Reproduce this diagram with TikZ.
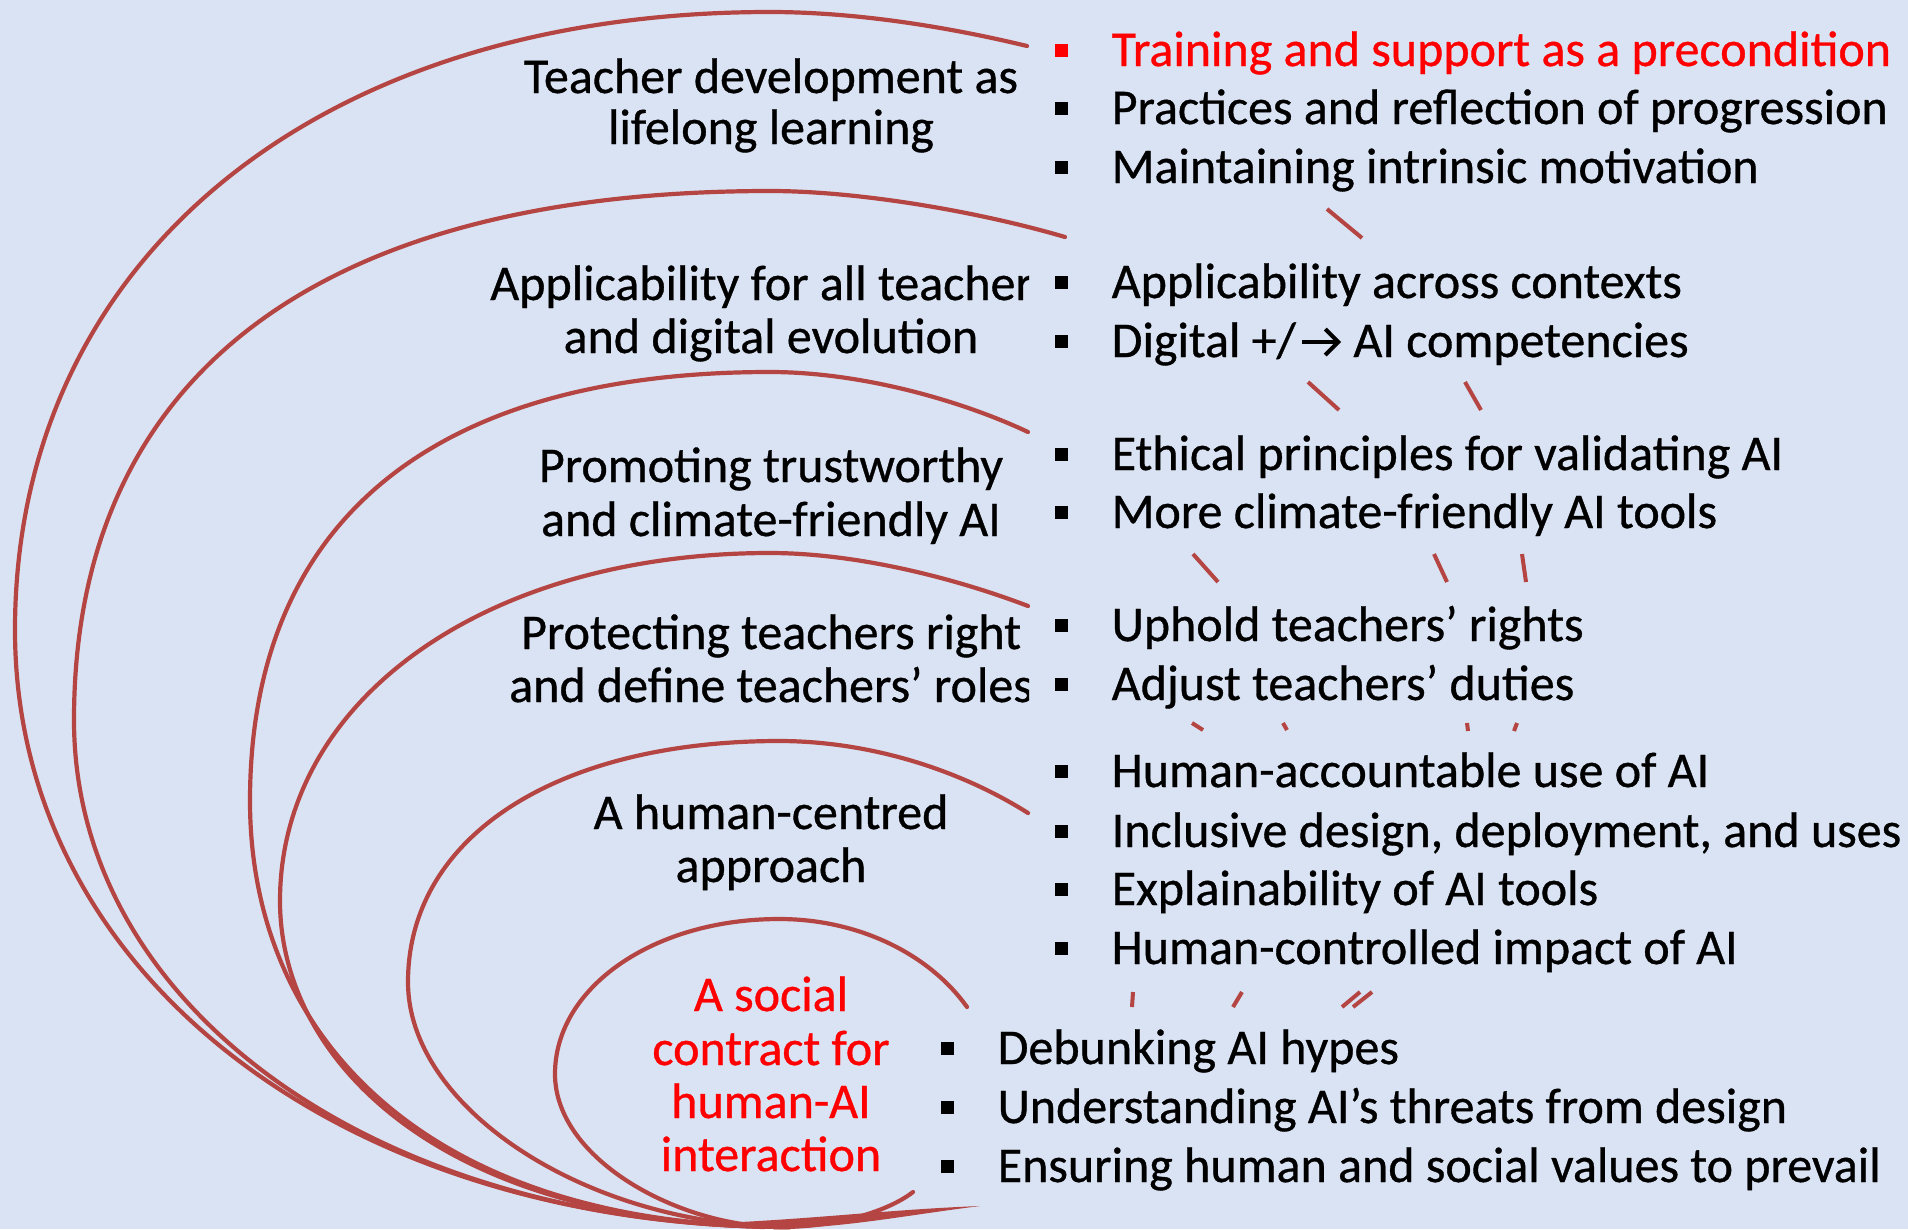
\documentclass[tikz,border=0pt]{standalone}
\usepackage{fontspec}
\setmainfont{Carlito}[FakeBold=0.7]
\usetikzlibrary{calc}
\definecolor{bgblue}{RGB}{218,227,243}
\definecolor{arcred}{RGB}{181,69,66}
\definecolor{hotred}{RGB}{255,0,0}
% square bullet followed by the gap to the item text
\newcommand{\bsq}{\rule[9.5pt]{13pt}{13pt}\hspace{44pt}}
\begin{document}
\begin{tikzpicture}[x=1pt,y=-1pt,
  arc/.style={draw=arcred, line width=4.2pt, line cap=round, line join=round},
  tick/.style={draw=arcred, line width=4pt},
  lbl/.style={anchor=base, inner sep=0pt, font=\fontsize{50}{58}\selectfont},
  brow/.style={anchor=base west, inner sep=0pt, font=\fontsize{50}{58}\selectfont},
  txtarrow/.style={draw=black, line width=4pt, line join=miter},
]
\useasboundingbox (0,0) rectangle (1908,1229);
\fill[bgblue] (0,0) rectangle (1908,1229);

% nested arcs, outermost first; all sweep down into one point at the bottom
\draw[arc] (1027,46) .. controls (940,25) and (850,12) .. (770,12)
  .. controls (317,12) and (15,259) .. (15,630)
  .. controls (15,980) and (350,1227) .. (790,1227);
\draw[arc] (1065,237) .. controls (980,212) and (860,191) .. (770,191)
  .. controls (318,191) and (74,376) .. (74,720)
  .. controls (74,1010) and (380,1227) .. (790,1227);
\draw[arc] (1028,432) .. controls (960,400) and (860,372) .. (770,372)
  .. controls (432,372) and (250,522) .. (250,801)
  .. controls (250,1040) and (430,1227) .. (790,1227);
\draw[arc] (1028,606) .. controls (960,580) and (860,553) .. (770,553)
  .. controls (486,553) and (280,699) .. (280,901)
  .. controls (280,1060) and (440,1227) .. (790,1227);
\draw[arc] (1028,813) .. controls (960,770) and (870,741) .. (779,741)
  .. controls (556,741) and (408,837) .. (408,982)
  .. controls (408,1110) and (590,1227) .. (790,1227);
\draw[arc] (967,1007) .. controls (930,955) and (860,919) .. (779,919)
  .. controls (654,919) and (555,987) .. (555,1074)
  .. controls (555,1160) and (680,1227) .. (780,1227)
  .. controls (840,1227) and (890,1210) .. (913,1192);
% tapered tail where the arcs meet
\fill[arcred] (740,1222) .. controls (820,1218) and (900,1209) .. (980,1206)
  .. controls (900,1216) and (840,1229) .. (760,1229) -- cycle;

% short red strokes between the item groups
\draw[tick] (1327,209) -- (1362,238);
\draw[tick] (1308,382) -- (1339,410);
\draw[tick] (1465,382) -- (1481,410);
\draw[tick] (1193,554) -- (1218,582);
\draw[tick] (1434,554) -- (1447,582);
\draw[tick] (1522,554) -- (1526,582);
\draw[tick] (1192,723) -- (1203,730);
\draw[tick] (1283,723) -- (1287,730);
\draw[tick] (1467,723) -- (1468,731);
\draw[tick] (1517,723) -- (1514,731);
\draw[tick] (1133,992) -- (1132,1007);
\draw[tick] (1242,992) -- (1233,1007);
\draw[tick] (1360,992) -- (1342,1007);
\draw[tick] (1372,992) -- (1353,1007);

% layer titles
\begin{scope}
\clip (0,0) rectangle (1029,1229);
\node[lbl] (t1a) at (771,93) {Teacher development as};
\node[lbl] (t1b) at (771,144) {lifelong learning};
\node[lbl] (t2a) at (771,300) {Applicability for all teachers};
\node[lbl] (t2b) at (771,353) {and digital evolution};
\node[lbl] (t3a) at (771,482) {Promoting trustworthy};
\node[lbl] (t3b) at (771,536) {and climate-friendly AI};
\node[lbl] (t4a) at (771,649) {Protecting teachers right};
\node[lbl] (t4b) at (771,702) {and define teachers’ roles};
\node[lbl] (t5a) at (771,829) {A human-centred};
\node[lbl] (t5b) at (771,882) {approach};
\node[lbl, text=hotred] (t6a) at (771,1011) {A social};
\node[lbl, text=hotred] (t6b) at (771,1065) {contract for};
\node[lbl, text=hotred] (t6c) at (771,1118) {human-AI};
\node[lbl, text=hotred] (t6d) at (771,1171) {interaction};
\end{scope}

% item lists
\node[brow, text=hotred] (i1a) at (1054.5,66) {\bsq Training and support as a precondition};
\node[brow] (i1b) at (1054.5,124) {\bsq Practices and reflection of progression};
\node[brow] (i1c) at (1054.5,183) {\bsq Maintaining intrinsic motivation};
\node[brow] (i2a) at (1054.5,298) {\bsq Applicability across contexts};
\node[brow] (i2b) at (1054.5,357) {\bsq Digital +/};
\coordinate (arrS) at ($(i2b.base east)+(6,-15)$);
\coordinate (arrE) at ($(arrS)+(36,0)$);
\draw[txtarrow] (arrS) -- (arrE);
\draw[txtarrow] ($(arrE)+(-13,-13)$) -- (arrE) -- ($(arrE)+(-13,13)$);
\node[brow] (i2c) at ($(i2b.base east)+(57,0)$) {AI competencies};
\node[brow] (i3a) at (1054.5,470) {\bsq Ethical principles for validating AI};
\node[brow] (i3b) at (1054.5,528) {\bsq More climate-friendly AI tools};
\node[brow] (i4a) at (1054.5,641) {\bsq Uphold teachers’ rights};
\node[brow] (i4b) at (1054.5,700) {\bsq Adjust teachers’ duties};
\node[brow] (i5a) at (1054.5,787) {\bsq Human-accountable use of AI};
\node[brow] (i5b) at (1054.5,847) {\bsq Inclusive design, deployment, and uses};
\node[brow] (i5c) at (1054.5,905) {\bsq Explainability of AI tools};
\node[brow] (i5d) at (1054.5,964) {\bsq Human-controlled impact of AI};
\node[brow] (i6a) at (940.5,1064) {\bsq Debunking AI hypes};
\node[brow] (i6b) at (940.5,1123) {\bsq Understanding AI’s threats from design};
\node[brow] (i6c) at (940.5,1182) {\bsq Ensuring human and social values to prevail};
\end{tikzpicture}
\end{document}
